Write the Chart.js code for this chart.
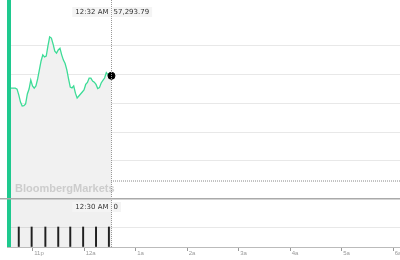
<!DOCTYPE html>
<html>
<head>
<meta charset="utf-8">
<script src="https://cdn.jsdelivr.net/npm/chart.js@4"></script>
<style>
  body { margin: 0; background: #fff; width: 400px; height: 260px; overflow: hidden; }
  #top { position: absolute; left: 0; top: 0; width: 400px; height: 198px; }
  #bot { position: absolute; left: 0; top: 198px; width: 400px; height: 62px; }
</style>
</head>
<body>
<div id="top"><canvas id="priceChart"></canvas></div>
<div id="bot"><canvas id="volChart"></canvas></div>
<script>
// minutes relative to midnight
var times = [-86,-84,-82,-80,-78,-76,-74,-72,-70,-68,-66,-64,-62,-60,-58,-56,-54,-52,-50,-48,
  -46,-44,-42,-40,-38,-36,-34,-32,-30,-28,-26,-24,-22,-20,-18,-16,-14,-12,-10,-8,
  -6,-4,-2,0,2,4,6,8,10,12,14,16,18,20,22,24,26,28,30,32];
var prices = [57251,57251,57251,57251,57248,57228,57203,57190,57191,57197,57231,57248,57279,57259,57251,57259,57283,57314,57345,57366,
  57359,57362,57397,57428,57424,57403,57379,57372,57383,57389,57366,57348,57336,57314,57283,57255,57252,57259,57234,57217,
  57224,57231,57238,57245,57264,57271,57286,57286,57276,57272,57264,57250,57253,57269,57278,57286,57305,57297,57293,57293.79];

var volTimes = [-91,-76,-61,-45,-30,-16,-1,14,29];
var volumes = [10,10,10,10,10,10,10,10,10];

var tickValues = [-60,0,60,120,180,240,300,360];
var tickLabels = ["11p","12a","1a","2a","3a","4a","5a","6a"];

var lastTime = 32;
var priceLabel = "57,293.79";
var timeLabel = "12:32 AM";
var volTimeLabel = "12:30 AM";
var volLabel = "0";
var refLine = 56931;

var xMin = -89.7, xMax = 368.1;
var green = "#1ec98e";

var pricePts = times.map(function(t, i) { return {x: t, y: prices[i]}; });
var volPts = volTimes.map(function(t, i) { return {x: t, y: volumes[i]}; });

// draws green left bar, crosshair, session shading and the hover labels
function overlay(label, value, labelY, isTop) {
  return {
    id: isTop ? "overlayTop" : "overlayBottom",
    afterDraw: function(chart) {
      var ctx = chart.ctx;
      var xs = chart.scales.x, ys = chart.scales.y;
      var top = ys.top, bottom = ys.bottom;
      var cx = Math.round(xs.getPixelForValue(lastTime)) + 0.5;
      var x0 = xs.getPixelForValue(xMin);
      ctx.save();
      if (!isTop) {
        // session so far: translucent grey over the volume panel
        ctx.fillStyle = "rgba(0,0,0,0.06)";
        ctx.fillRect(x0, top, cx - x0, bottom - top);
      } else {
        ctx.font = "bold 11px 'Liberation Sans', Arial, sans-serif";
        ctx.fillStyle = "rgba(195,195,195,0.8)";
        ctx.textBaseline = "middle";
        ctx.fillText("BloombergMarkets", 15, 189);
      }
      ctx.strokeStyle = "#999";
      ctx.lineWidth = 1;
      ctx.setLineDash([1, 1]);
      ctx.beginPath();
      ctx.moveTo(cx, top);
      ctx.lineTo(cx, bottom);
      ctx.stroke();
      ctx.setLineDash([]);
      ctx.fillStyle = green;
      ctx.fillRect(7, top, 4, bottom - top);
      if (!isTop) {
        ctx.fillStyle = "#aaa";
        ctx.fillRect(0, 0, 400, 1.5);
      }
      ctx.font = "7px 'DejaVu Sans', sans-serif";
      ctx.textBaseline = "middle";
      var w1 = ctx.measureText(label).width;
      ctx.fillStyle = "#f4f4f4";
      ctx.fillRect(cx - w1 - 6, labelY - 5, w1 + 5, 10);
      ctx.fillStyle = "#333";
      ctx.textAlign = "right";
      ctx.fillText(label, cx - 3, labelY);
      var w2 = ctx.measureText(value).width;
      ctx.fillStyle = "#f4f4f4";
      ctx.fillRect(cx + 1, labelY - 5, w2 + 4, 10);
      ctx.fillStyle = "#333";
      ctx.textAlign = "left";
      ctx.fillText(value, cx + 2, labelY);
      ctx.restore();
    }
  };
}

new Chart("priceChart", {
  type: "line",
  data: {
    datasets: [{
      data: pricePts,
      borderColor: "#3ddc97",
      borderWidth: 1.3,
      backgroundColor: "#f1f1f1",
      fill: "start",
      tension: 0,
      pointRadius: pricePts.map(function(p, i) { return i == pricePts.length - 1 ? 3.5 : 0; }),
      pointBackgroundColor: "#000",
      pointBorderColor: "#000",
      pointBorderWidth: 1
    }, {
      data: [{x: xMin, y: refLine}, {x: xMax, y: refLine}],
      borderColor: "#888",
      borderWidth: 1,
      borderDash: [1, 1],
      pointRadius: 0,
      fill: false
    }]
  },
  options: {
    animation: false,
    responsive: true,
    maintainAspectRatio: false,
    layout: {autoPadding: false, padding: {left: 7, right: 0, top: 0, bottom: 0}},
    plugins: {legend: {display: false}, tooltip: {enabled: false}},
    scales: {
      x: {type: "linear", min: xMin, max: xMax, display: false},
      y: {
        min: 56872.4, max: 57555.2,
        display: true,
        border: {display: false},
        ticks: {display: false, stepSize: 100},
        grid: {
          drawTicks: false,
          color: function(c) { return (c.tick && c.tick.value >= 57000 && c.tick.value <= 57400) ? "#e8e8e8" : "rgba(0,0,0,0)"; }
        },
        afterFit: function(s) { s.width = 0; }
      }
    }
  },
  plugins: [overlay(timeLabel, priceLabel, 12, true)]
});

new Chart("volChart", {
  type: "bar",
  data: {
    datasets: [{
      data: volPts,
      backgroundColor: "#222",
      barThickness: 1.3
    }]
  },
  options: {
    animation: false,
    responsive: true,
    maintainAspectRatio: false,
    layout: {autoPadding: false, padding: {left: 7, right: 0, top: 0, bottom: 0}},
    plugins: {legend: {display: false}, tooltip: {enabled: false}},
    scales: {
      x: {
        type: "linear", min: xMin, max: xMax,
        offset: false,
        border: {color: "#bbb", width: 1},
        grid: {offset: false, drawOnChartArea: false, tickLength: 4, color: "#999"},
        afterBuildTicks: function(s) { s.ticks = tickValues.map(function(v) { return {value: v}; }); },
        afterFit: function(s) { s.height = 13; s.paddingLeft = 0; s.paddingRight = 0; },
        ticks: {
          autoSkip: false,
          maxRotation: 0,
          align: "start",
          padding: -1,
          color: "#999",
          font: {size: 6, family: "'Liberation Sans', Arial, sans-serif"},
          callback: function(v) { var i = tickValues.indexOf(v); return i < 0 ? "" : " " + tickLabels[i]; }
        }
      },
      y: {
        min: 0, max: 24.5,
        display: true,
        border: {display: false},
        ticks: {display: false, stepSize: 10},
        grid: {
          drawTicks: false,
          color: function(c) { return (c.tick && c.tick.value == 10) ? "#e8e8e8" : "rgba(0,0,0,0)"; }
        },
        afterFit: function(s) { s.width = 0; }
      }
    }
  },
  plugins: [overlay(volTimeLabel, volLabel, 9, false)]
});
</script>
</body>
</html>
